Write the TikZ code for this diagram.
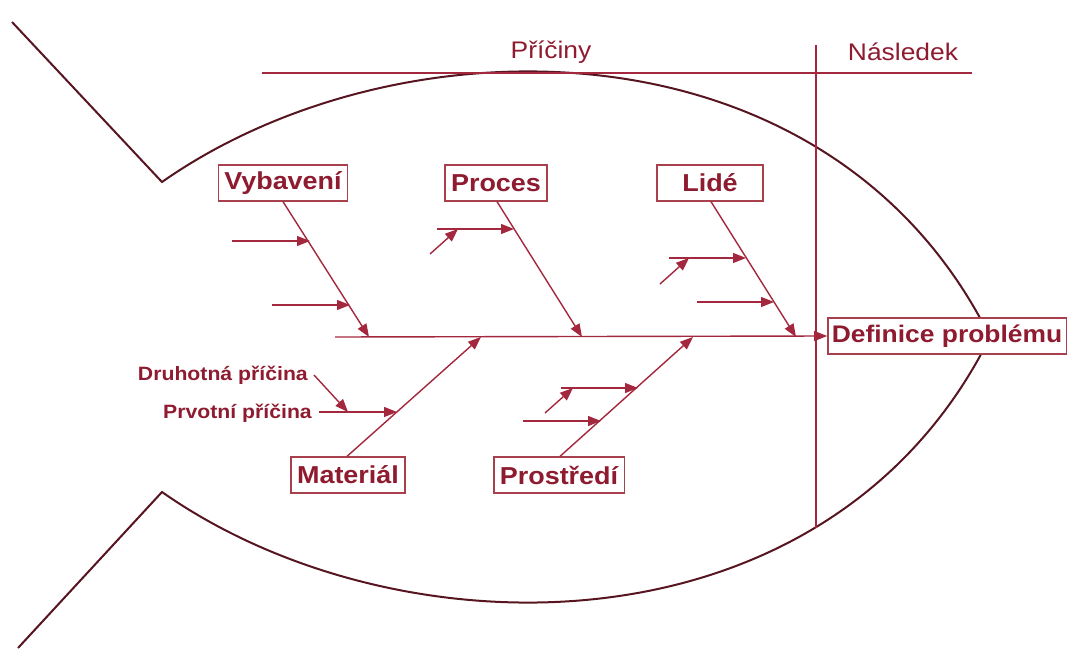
\documentclass[tikz,border=0pt]{standalone}
\usepackage{fontspec}
\setmainfont{Liberation Sans}
\newfontfamily\labfont[FakeStretch=1.1]{Liberation Sans}
\usetikzlibrary{arrows.meta}
\definecolor{ink}{HTML}{8E1B2F}
\definecolor{bone}{HTML}{A3283D}
\definecolor{frame}{HTML}{A8404E}
\definecolor{fish}{HTML}{561520}
\tikzset{
  cause/.style={draw=frame, line width=1.3pt, fill=white, text=ink, inner xsep=6pt,
    minimum height=36pt, font=\labfont\bfseries\fontsize{24.5}{28}\selectfont},
  effect/.style={cause, inner xsep=4pt, font=\labfont\bfseries\fontsize{24}{28}\selectfont},
  head/.style={text=ink, font=\labfont\fontsize{24}{28}\selectfont},
  small/.style={text=ink, font=\labfont\bfseries\fontsize{19.3}{22}\selectfont, inner sep=0pt},
  bonearrow/.style={draw=bone, line width=1.4pt, -{Triangle[length=13pt,width=10pt]}},
  plain/.style={draw=bone, line width=1.4pt},
  outline/.style={draw=fish, line width=2pt}
}
\begin{document}
\begin{tikzpicture}[x=1pt,y=-1pt]
\useasboundingbox (0,0) rectangle (1070,650);

% fish body and tail
\draw[outline] (12,22) -- (162,182)
  .. controls (400,15) and (830,15) .. (990,337)
  .. controls (830,659) and (400,659) .. (162,492) -- (18,648);

% header: causes / effect
\coordinate (hl) at (262,73);
\coordinate (hr) at (972,73);
\coordinate (vt) at (816,45);
\coordinate (vb) at (816,528);
\draw[plain] (hl) -- (hr);
\draw[plain] (vt) -- (vb);
\node[head] (pric) at (551,52) {Příčiny};
\node[head] (nasl) at (903,52) {Následek};

% effect box and spine
\node[effect] (def) at (947,336) {Definice problému};
\coordinate (sp0) at (335,337);
\draw[bonearrow] (sp0) -- (def.west);

% cause boxes
\node[cause] (vyb) at (283,183) {Vybavení};
\node[cause] (pro) at (496,183) {Proces};
\node[cause, minimum width=106pt] (lid) at (710,183) {Lidé};
\node[cause] (mat) at (348,475) {Materiál};
\node[cause] (prs) at (559,475) {Prostředí};

% bone ends on the spine
\coordinate (eV) at (369,337);
\coordinate (eP) at (582,337);
\coordinate (eL) at (796,337);
\coordinate (eM) at (481,337);
\coordinate (eS) at (693,337);

\draw[bonearrow] (vyb.south) ++(0,0) coordinate (sV) (sV) -- (eV);
\draw[bonearrow] (pro.south) ++(1,0) coordinate (sP) (sP) -- (eP);
\draw[bonearrow] (lid.south) ++(1,0) coordinate (sL) (sL) -- (eL);
\draw[bonearrow] (mat.north) ++(-1,0) coordinate (sM) (sM) -- (eM);
\draw[bonearrow] (prs.north) ++(1,0) coordinate (sS) (sS) -- (eS);

% Vybavení sub-causes
\coordinate (v1a) at (232,241); \coordinate (v1b) at (310,241);
\coordinate (v2a) at (272,305); \coordinate (v2b) at (350,305);
\draw[bonearrow] (v1a) -- (v1b);
\draw[bonearrow] (v2a) -- (v2b);

% Proces sub-causes
\coordinate (p1a) at (437,229); \coordinate (p1b) at (514,229);
\coordinate (p2a) at (430,254); \coordinate (p2b) at (458,229);
\draw[bonearrow] (p1a) -- (p1b);
\draw[bonearrow] (p2a) -- (p2b);

% Lidé sub-causes
\coordinate (l1a) at (669,258); \coordinate (l1b) at (746,258);
\coordinate (l2a) at (660,284); \coordinate (l2b) at (689,258);
\coordinate (l3a) at (697,302); \coordinate (l3b) at (774,302);
\draw[bonearrow] (l1a) -- (l1b);
\draw[bonearrow] (l2a) -- (l2b);
\draw[bonearrow] (l3a) -- (l3b);

% Materiál sub-causes with legend labels
\node[small, anchor=east] (prv) at (312,413) {Prvotní příčina};
\node[small, anchor=east] (dru) at (308,375) {Druhotná příčina};
\coordinate (m1a) at (319,412); \coordinate (m1b) at (397,412);
\coordinate (m2a) at (314,375); \coordinate (m2b) at (348,412);
\draw[bonearrow] (m1a) -- (m1b);
\draw[bonearrow] (m2a) -- (m2b);

% Prostředí sub-causes
\coordinate (s1a) at (561,388); \coordinate (s1b) at (638,388);
\coordinate (s2a) at (545,413); \coordinate (s2b) at (573,388);
\coordinate (s3a) at (523,421); \coordinate (s3b) at (601,421);
\draw[bonearrow] (s1a) -- (s1b);
\draw[bonearrow] (s2a) -- (s2b);
\draw[bonearrow] (s3a) -- (s3b);
\end{tikzpicture}
\end{document}
